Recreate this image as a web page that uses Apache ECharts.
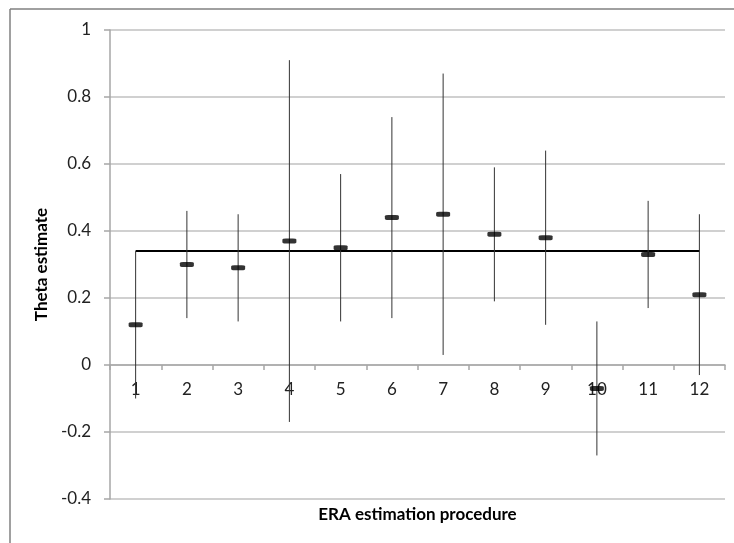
<!DOCTYPE html>
<html>
<head>
<meta charset="utf-8">
<script src="https://cdn.jsdelivr.net/npm/echarts@6/dist/echarts.min.js"></script>
<style>
  html, body { margin: 0; padding: 0; background: #fff; }
  #chart { width: 734px; height: 543px; }
</style>
</head>
<body>
<div id="chart"></div>
<script>
const procedures = ['1', '2', '3', '4', '5', '6', '7', '8', '9', '10', '11', '12'];
const thetaEstimate = [0.12, 0.30, 0.29, 0.37, 0.35, 0.44, 0.45, 0.39, 0.38, -0.07, 0.33, 0.21];
const lowerBound = [-0.10, 0.14, 0.13, -0.17, 0.13, 0.14, 0.03, 0.19, 0.12, -0.27, 0.17, -0.03];
const upperBound = [0.34, 0.46, 0.45, 0.91, 0.57, 0.74, 0.87, 0.59, 0.64, 0.13, 0.49, 0.45];
const overallTheta = 0.34;

const yMin = -0.4;
const yMax = 1;

const chart = echarts.init(document.getElementById('chart'));

const font = 'Lato, "Open Sans", sans-serif';

const gridTop = 30;
const gridBottom = 44;
const gridHeight = 543 - gridTop - gridBottom;
// move the category axis up to the zero line (Excel style)
const zeroOffset = -Math.round(gridHeight * (0 - yMin) / (yMax - yMin));

const errorData = procedures.map((p, i) => [i, lowerBound[i], upperBound[i]]);

const option = {
  animation: false,
  textStyle: { fontFamily: font },
  grid: { left: 110, right: 9, top: gridTop, bottom: gridBottom, containLabel: false, outerBoundsMode: 'none' },
  xAxis: {
    type: 'category',
    data: procedures,
    position: 'bottom',
    offset: zeroOffset,
    name: 'ERA estimation procedure',
    nameLocation: 'middle',
    nameGap: 141,
    nameTextStyle: { fontWeight: 'bold', fontSize: 17, color: '#000', fontFamily: font },
    axisLine: { onZero: false, lineStyle: { color: '#a6a6a6', width: 1.5 } },
    axisTick: { show: true, length: 5, lineStyle: { color: '#a6a6a6', width: 1.5 } },
    axisLabel: { fontSize: 17, color: '#222', margin: 16, fontFamily: font },
    splitLine: { show: false }
  },
  yAxis: {
    type: 'value',
    min: yMin,
    max: yMax,
    interval: 0.2,
    name: 'Theta estimate',
    nameLocation: 'middle',
    nameGap: 58,
    nameTextStyle: { fontWeight: 'bold', fontSize: 17, color: '#000', fontFamily: font },
    axisLine: { show: true, lineStyle: { color: '#a6a6a6', width: 1.5 } },
    axisTick: { show: true, length: 6, lineStyle: { color: '#a6a6a6', width: 1.5 } },
    axisLabel: { fontSize: 17, color: '#222', margin: 19, fontFamily: font },
    splitLine: { lineStyle: { color: '#c0c0c0', width: 1.5 } }
  },
  graphic: [
    { type: 'line', shape: { x1: 10, y1: 9, x2: 734, y2: 9 }, style: { stroke: '#808080', lineWidth: 1.5 }, z: 100 },
    { type: 'line', shape: { x1: 10, y1: 9, x2: 10, y2: 543 }, style: { stroke: '#808080', lineWidth: 1.5 }, z: 100 }
  ],
  series: [
    {
      type: 'line',
      data: [[procedures[0], overallTheta], [procedures[procedures.length - 1], overallTheta]],
      symbol: 'none',
      lineStyle: { color: '#000', width: 2 },
      z: 2
    },
    {
      type: 'custom',
      data: errorData,
      renderItem: function (params, api) {
        const x = api.value(0);
        const lo = api.coord([x, api.value(1)]);
        const hi = api.coord([x, api.value(2)]);
        return {
          type: 'line',
          shape: { x1: lo[0], y1: lo[1], x2: hi[0], y2: hi[1] },
          style: { stroke: '#333', lineWidth: 1 }
        };
      },
      z: 3
    },
    {
      type: 'scatter',
      data: thetaEstimate,
      symbol: 'roundRect',
      symbolSize: [14, 5],
      itemStyle: { color: '#000' },
      z: 4
    }
  ]
};

chart.setOption(option);
</script>
</body>
</html>
